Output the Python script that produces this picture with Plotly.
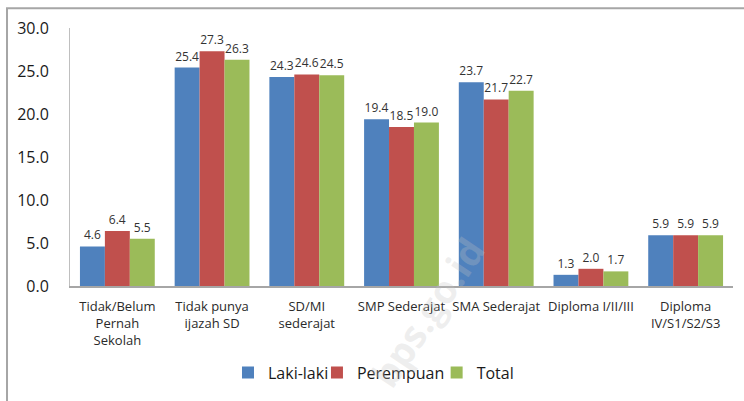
import plotly.graph_objects as go

categories = ["Tidak/Belum<br>Pernah<br>Sekolah", "Tidak punya<br>ijazah SD", "SD/MI<br>sederajat",
              "SMP Sederajat", "SMA Sederajat", "Diploma I/II/III", "Diploma<br>IV/S1/S2/S3"]
laki = [4.6, 25.4, 24.3, 19.4, 23.7, 1.3, 5.9]
perempuan = [6.4, 27.3, 24.6, 18.5, 21.7, 2.0, 5.9]
total = [5.5, 26.3, 24.5, 19.0, 22.7, 1.7, 5.9]
series = [("Laki-laki", laki, "#4F81BD", "legend"),
          ("Perempuan", perempuan, "#C0504D", "legend2"),
          ("Total", total, "#9BBB59", "legend3")]

FONT = "Open Sans"
fig = go.Figure()
for name, vals, col, lg in series:
    fig.add_trace(go.Bar(
        x=categories, y=vals, name=name, marker_color=col, marker_line_width=0,
        text=[f"{v:.1f}" for v in vals], textposition="outside", textangle=0,
        constraintext="none", cliponaxis=False, legend=lg,
        textfont=dict(family=FONT, size=12, color="#333333"),
    ))

legend_common = dict(orientation="h", y=-0.336, yanchor="middle", xanchor="left",
                     font=dict(family=FONT, size=16, color="#1a1a1a"), itemwidth=30,
                     bgcolor="rgba(0,0,0,0)")
fig.update_layout(
    width=744, height=401,
    margin=dict(l=70, r=11, t=28, b=111),
    paper_bgcolor="white", plot_bgcolor="white",
    barmode="group", bargap=0.21, bargroupgap=0,
    showlegend=True,
    legend=dict(x=0.2383, **legend_common),
    legend2=dict(x=0.3725, **legend_common),
    legend3=dict(x=0.553, **legend_common),
    font=dict(family=FONT),
)
fig.update_yaxes(range=[0, 30], dtick=5, tickformat=".1f", showgrid=False, zeroline=False,
                 showline=True, linecolor="#bfbfbf", linewidth=1, ticks="",
                 ticklabelstandoff=17,
                 tickfont=dict(family=FONT, size=16, color="#1a1a1a"))
fig.update_xaxes(showgrid=False, showline=True, linecolor="#a6a6a6", linewidth=1.5, ticks="",
                 tickangle=0, ticklabelstandoff=8,
                 tickfont=dict(family=FONT, size=13, color="#2a2a2a"))

# outer frame (top and left edges visible in the reference crop)
fig.add_shape(type="path", xref="paper", yref="paper",
              path="M -0.095,-0.45 L -0.095,1.0763 L 1.03,1.0763",
              line=dict(color="#a6a6a6", width=2))

# faint watermark
fig.add_annotation(text="<b>bps.go.id</b>", xref="paper", yref="paper", x=0.538, y=-0.1,
                   xanchor="center", yanchor="middle",
                   showarrow=False, textangle=-56,
                   font=dict(family=FONT, size=38, color="rgba(195,195,195,0.28)"))

fig.write_html("out.html", config={"displayModeBar": False},
               post_script="document.body.style.margin='0';")
